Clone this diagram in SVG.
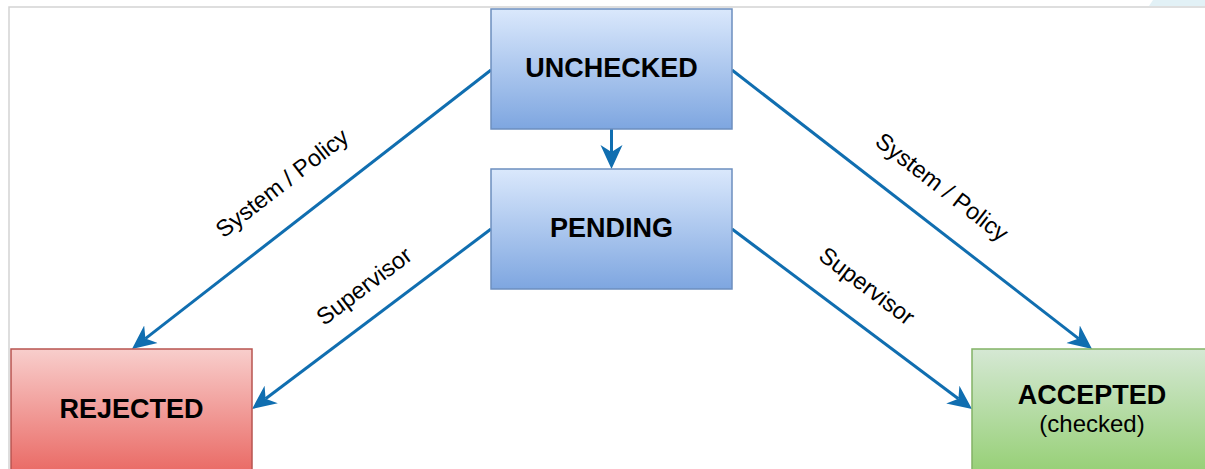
<svg xmlns="http://www.w3.org/2000/svg" width="1205" height="469" viewBox="0 0 1205 469">
<style>
.box{stroke-width:1.5}
.title{font-family:"Liberation Sans",Arial,sans-serif;font-weight:bold;font-size:27px;fill:#000;text-anchor:middle}
.sub{font-family:"Liberation Sans",Arial,sans-serif;font-size:24px;fill:#000;text-anchor:middle}
.lbl{font-family:"Liberation Sans",Arial,sans-serif;font-size:23.5px;fill:#000;text-anchor:middle}
.edge{fill:none;stroke:#106eb0;stroke-width:3;marker-end:url(#arr)}
</style>
<defs>
<linearGradient id="gBlue" x1="0" y1="0" x2="0" y2="1"><stop offset="0" stop-color="#dae8fc"/><stop offset="1" stop-color="#7ea6e0"/></linearGradient>
<linearGradient id="gRed" x1="0" y1="0" x2="0" y2="1"><stop offset="0" stop-color="#f8cecc"/><stop offset="1" stop-color="#ea6b66"/></linearGradient>
<linearGradient id="gGreen" x1="0" y1="0" x2="0" y2="1"><stop offset="0" stop-color="#d5e8d4"/><stop offset="1" stop-color="#97d077"/></linearGradient>
<marker id="arr" viewBox="0 0 24 24" markerWidth="24" markerHeight="24" refX="7" refY="12" orient="auto" markerUnits="userSpaceOnUse">
<path d="M0,1 L24,12 L0,23 L7,12 Z" fill="#106eb0"/>
</marker>
</defs>
<rect x="0" y="0" width="1205" height="469" fill="#ffffff"/>
<polygon points="1153,0 1205,0 1205,6 1149,6" fill="#e2f1f6"/>
<path d="M9,469 L9,7 L1205,7" fill="none" stroke="#d3d3d3" stroke-width="1.5"/>

<g id="connectors">
<line class="edge" x1="611.5" y1="129" x2="611.5" y2="152"/>
<line class="edge" x1="491" y1="70" x2="145.4" y2="338.6"/>
<line class="edge" x1="732" y1="70" x2="1078.6" y2="338.6"/>
<line class="edge" x1="491" y1="229" x2="265.6" y2="398.8"/>
<line class="edge" x1="732" y1="229" x2="958.4" y2="398.8"/>
<text class="lbl" transform="translate(282,183) rotate(-37.9)" y="8">System / Policy</text>
<text class="lbl" transform="translate(942,187) rotate(37.8)" y="8">System / Policy</text>
<text class="lbl" transform="translate(364,286) rotate(-37)" y="8">Supervisor</text>
<text class="lbl" transform="translate(867,286) rotate(37)" y="8">Supervisor</text>
</g>

<g id="unchecked">
<rect class="box" x="491" y="9" width="241" height="120" fill="url(#gBlue)" stroke="#6c8ebf"/>
<text class="title" x="611.5" y="77">UNCHECKED</text>
</g>
<g id="pending">
<rect class="box" x="491" y="169" width="241" height="120" fill="url(#gBlue)" stroke="#6c8ebf"/>
<text class="title" x="611.5" y="237">PENDING</text>
</g>
<g id="rejected">
<rect class="box" x="11" y="349" width="241" height="122" fill="url(#gRed)" stroke="#b85450"/>
<text class="title" x="131.5" y="417.5">REJECTED</text>
</g>
<g id="accepted">
<rect class="box" x="972" y="349" width="241" height="122" fill="url(#gGreen)" stroke="#82b366"/>
<text class="title" x="1092" y="404">ACCEPTED</text>
<text class="sub" x="1092" y="432">(checked)</text>
</g>
</svg>
